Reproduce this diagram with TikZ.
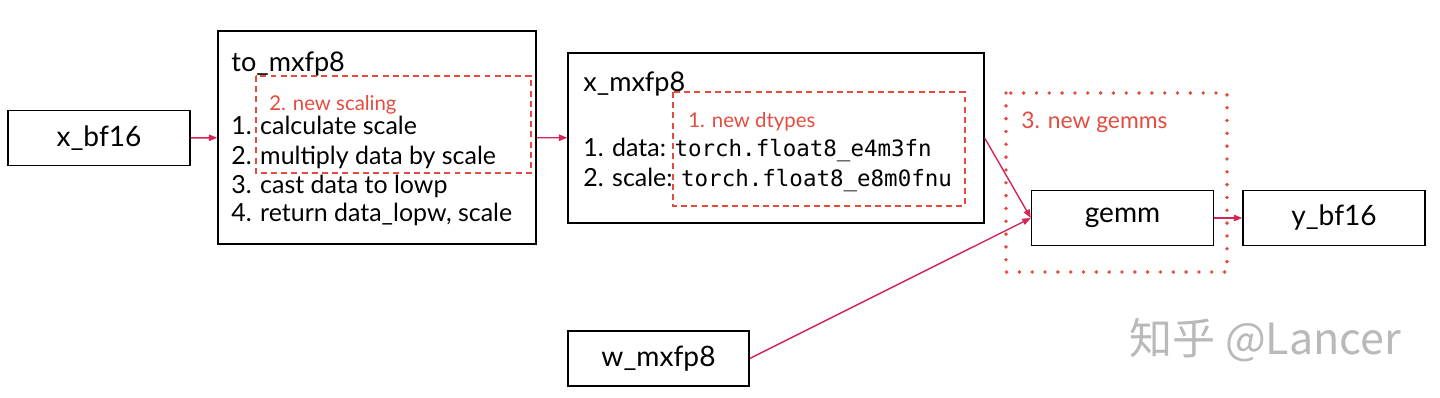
\documentclass[tikz,border=0pt]{standalone}
\usepackage{fontspec}
\setmainfont{Lato}
\setmonofont{DejaVu Sans Mono}
\newfontfamily\cjkfont{Noto Sans CJK SC}
\usetikzlibrary{arrows.meta,positioning}
\definecolor{flowRed}{RGB}{214,36,86}
\definecolor{hintRed}{RGB}{228,76,64}
\definecolor{markGray}{RGB}{185,185,185}

\begin{document}
\begin{tikzpicture}[
  x=0.02cm, y=-0.02cm,
  block/.style={
    draw,
    line width=0.8pt,
    inner sep=0pt,
    minimum height=1.1cm,
    minimum width=3.64cm,
    font=\fontsize{16}{19}\selectfont
  },
  panel/.style={draw, line width=0.8pt, inner sep=0pt},
  title/.style={anchor=base west, inner sep=0pt, font=\fontsize{15.4}{18}\selectfont},
  body/.style={anchor=base west, inner sep=0pt, font=\fontsize{14.2}{17}\selectfont},
  hint/.style={draw=hintRed, dashed, dash pattern=on 3.4pt off 2.4pt, line width=0.8pt},
  hinttext/.style={anchor=base west, inner sep=0pt, text=hintRed, font=\fontsize{11.6}{14}\selectfont},
  gemmsbox/.style={draw=hintRed, line width=2.2pt, line cap=round, dash pattern=on 0pt off 7.3pt},
  arrow/.style={-{Triangle[length=1.7mm,width=1.3mm]}, line width=0.8pt, flowRed}
]
  \useasboundingbox (0,0) rectangle (1440,397);

  % blocks
  \node[block] (xbf) at (99,138) {x\_bf16};
  \node[panel, minimum width=6.36cm, minimum height=4.26cm] (tomx) at (377,137.5) {};
  \node[panel, minimum width=8.32cm, minimum height=3.4cm] (xmx) at (776,138) {};
  \node[block] (gemm) at (1122.5,218) {gemm};
  \node[block] (ybf) at (1334,218) {y\_bf16};
  \node[block, minimum width=3.62cm] (wmx) at (658.5,358.5) {w\_mxfp8};

  % to_mxfp8 text
  \node[title] (tomxtitle) at (231,71) {to\_mxfp8};
  \node[body] (stepa) at (231,134) {1. calculate scale};
  \node[body] (stepb) at (231,164) {2. multiply data by scale};
  \node[body] (stepc) at (231,193) {3. cast data to lowp};
  \node[body] (stepd) at (231,221) {4. return data\_lopw, scale};

  % x_mxfp8 text
  \node[title] (xmxtitle) at (583,91) {x\_mxfp8};
  \node[body] (dataline) at (583,156) {1. data: {\fontsize{12.8}{15}\selectfont\ttfamily torch.float8\_e4m3fn}};
  \node[body] (scaleline) at (583,186) {2. scale: {\fontsize{12.8}{15}\selectfont\ttfamily torch.float8\_e8m0fnu}};

  % highlights
  \draw[hint] (256,76) rectangle (531,173);
  \node[hinttext] (scalinglabel) at (269,110) {2. new scaling};
  \draw[hint] (673,92) rectangle (965,206);
  \node[hinttext] (dtypeslabel) at (688,127) {1. new dtypes};
  \draw[gemmsbox] (1006,93) rectangle (1227,272);
  \node[hinttext, font=\fontsize{13}{15}\selectfont] (gemmslabel) at (1021,128) {3. new gemms};

  % flow
  \draw[arrow] (xbf) -- (tomx);
  \draw[arrow] (tomx) -- (xmx);
  \draw[arrow] (xmx.east) -- (gemm.west);
  \draw[arrow] (wmx.east) -- (gemm.west);
  \draw[arrow] (gemm) -- (ybf);

  \node[anchor=west, inner sep=0pt, text=markGray, font=\cjkfont\fontsize{24.5}{28}\selectfont] (mark) at (1129,340) {知乎 @Lancer};
\end{tikzpicture}
\end{document}
